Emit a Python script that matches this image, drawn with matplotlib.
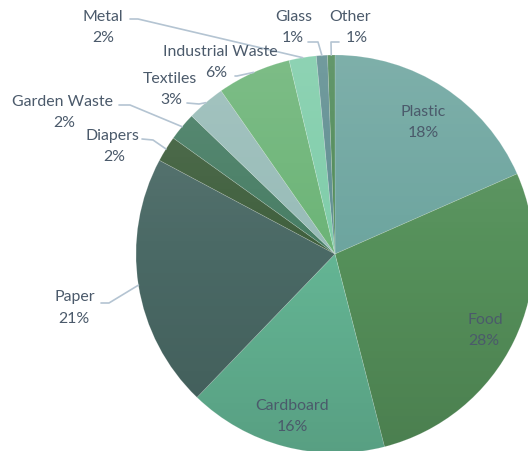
import numpy as np
import matplotlib
matplotlib.use("Agg")
import matplotlib.pyplot as plt
from matplotlib.patches import Circle

# Datos de composición de residuos (porcentajes)
categories = ["Plastic", "Food", "Cardboard", "Paper", "Diapers", "Garden Waste",
              "Textiles", "Industrial Waste", "Metal", "Glass", "Other"]
shares = [18.4, 27.6, 16.2, 20.6, 2.1, 2.3, 3.1, 6.0, 2.2, 0.9, 0.6]
colors = ["#6da59f", "#55905a", "#64b594", "#4a6965", "#3f5f3d", "#477d64",
          "#98bcb8", "#6cb477", "#7fcdaa", "#5f8e91", "#4f8a58"]

# Posición de las etiquetas (px): nombre, porcentaje, codo de la línea guía
label_pos = {
    "Plastic":          ((423, 112), (423, 133), None),
    "Food":             ((485, 320), (484, 341), None),
    "Cardboard":        ((292, 406), (292, 427), None),
    "Paper":            ((75, 297), (74, 319), [(101, 303), (109, 303)]),
    "Diapers":          ((112, 136), (114, 157), [(142, 139), (153, 140)]),
    "Garden Waste":     ((62, 102), (64, 123), [(119, 105), (130, 105)]),
    "Textiles":         ((170, 79), (171, 100), [(187, 103), (199, 104)]),
    "Industrial Waste": ((220, 52), (216, 73), [(235, 76), (237, 76)]),
    "Metal":            ((103, 17), (103, 38), [(130, 19), (138, 19)]),
    "Glass":            ((294, 17), (293, 38), [(308, 42), (318, 42)]),
    "Other":            ((350, 17), (357, 38), [(339, 42), (331, 42)]),
}

text_color = "#4b5a6b"
center = (335, 254)
radius = 199

fig = plt.figure(figsize=(5.28, 4.51), dpi=100)
ax = fig.add_axes([0, 0, 1, 1])

wedges, _ = ax.pie(shares, colors=colors, startangle=-90, counterclock=True,
                   center=center, radius=radius,
                   wedgeprops=dict(edgecolor=(1, 1, 1, 0.2), linewidth=0.5))

# Sombreado vertical suave (más claro arriba, más oscuro abajo)
n = 256
t = np.linspace(0, 1, n)
grad = np.zeros((n, 1, 4))
grad[:, 0, 0] = np.where(t < 0.5, 1.0, 0.0)
grad[:, 0, 1] = grad[:, 0, 0]
grad[:, 0, 2] = grad[:, 0, 0]
grad[:, 0, 3] = np.abs(t - 0.5) * 0.24
img = ax.imshow(grad, extent=(center[0] - radius, center[0] + radius,
                              center[1] + radius, center[1] - radius),
                aspect="auto", zorder=2, interpolation="bilinear")
clip = Circle(center, radius, transform=ax.transData, facecolor="none", edgecolor="none")
ax.add_patch(clip)
img.set_clip_path(clip)

ax.set_xlim(0, 528)
ax.set_ylim(451, 0)
ax.set_aspect("equal")
ax.axis("off")

font = dict(family=["Lato", "DejaVu Sans"], fontsize=11.4, color=text_color,
            ha="center", va="center", zorder=5)

for w, name, val in zip(wedges, categories, shares):
    (nx, ny), (px, py), elbow = label_pos[name]
    ax.text(nx, ny, name, **font)
    ax.text(px, py, f"{val:.0f}%", **font)
    if elbow:
        mid = np.deg2rad((w.theta1 + w.theta2) / 2)
        end = (center[0] + radius * np.cos(mid), center[1] + radius * np.sin(mid))
        xs = [p[0] for p in elbow] + [end[0]]
        ys = [p[1] for p in elbow] + [end[1]]
        ax.plot(xs, ys, color="#b4c4d2", linewidth=1.2, zorder=1,
                solid_capstyle="round")

fig.savefig("out.png", dpi=100)
